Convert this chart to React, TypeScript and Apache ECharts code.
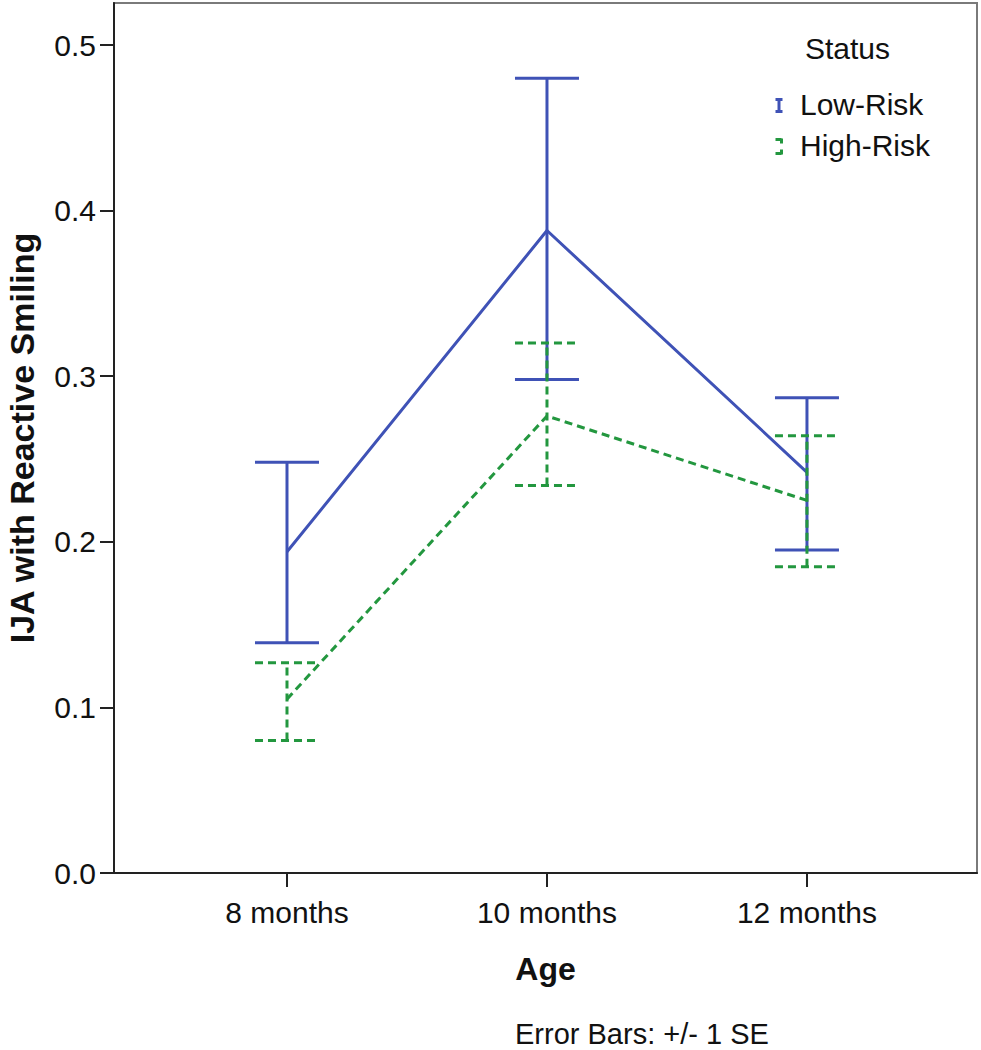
import React, { useEffect, useRef } from "react";
import * as echarts from "echarts";

const ageLabels = ["8 months", "10 months", "12 months"];
const lowRiskMean = [0.194, 0.388, 0.242];
const lowRiskUpper = [0.248, 0.480, 0.287];
const lowRiskLower = [0.139, 0.298, 0.195];
const highRiskMean = [0.105, 0.276, 0.225];
const highRiskUpper = [0.127, 0.320, 0.264];
const highRiskLower = [0.080, 0.234, 0.185];
const yTicks = [0, 0.1, 0.2, 0.3, 0.4, 0.5];

const BLUE = "#3f52b6";
const GREEN = "#23973f";
const FONT = "'Liberation Sans', Arial, sans-serif";

function errorSeries(name: string, upper: number[], lower: number[], color: string, dashed: boolean) {
  const data = upper.map((u, i) => [i, lower[i], u]);
  return {
    type: "custom",
    name,
    data,
    z: dashed ? 4 : 2,
    renderItem: (params: any, api: any) => {
      const x = api.value(0);
      const lo = api.coord([x, api.value(1)]);
      const hi = api.coord([x, api.value(2)]);
      const hw = 32;
      const style = {
        stroke: color,
        lineWidth: 3,
        lineDash: dashed ? [8, 5] : null,
        fill: null,
      };
      return {
        type: "group",
        children: [
          { type: "line", shape: { x1: lo[0], y1: lo[1], x2: hi[0], y2: hi[1] }, style },
          { type: "line", shape: { x1: hi[0] - hw, y1: hi[1], x2: hi[0] + hw, y2: hi[1] }, style },
          { type: "line", shape: { x1: lo[0] - hw, y1: lo[1], x2: lo[0] + hw, y2: lo[1] }, style },
        ],
      };
    },
  };
}

export default function App() {
  const ref = useRef<HTMLDivElement>(null);
  useEffect(() => {
    if (!ref.current) return;
    const chart = echarts.init(ref.current, null, { renderer: "svg" });
    const option: any = {
      animation: false,
      backgroundColor: "#ffffff",
      textStyle: { fontFamily: FONT },
      grid: {
        left: 114,
        right: 4,
        top: 3,
        bottom: 177,
        show: true,
        containLabel: false,
        outerBoundsMode: "none",
        borderColor: "#7a7a7a",
        borderWidth: 2,
        backgroundColor: "transparent",
      },
      xAxis: {
        type: "value",
        min: -0.6654,
        max: 2.654,
        name: "Age",
        nameLocation: "middle",
        nameGap: 80,
        nameTextStyle: { fontSize: 32, fontWeight: "bold", color: "#111", fontFamily: FONT },
        axisLine: { show: true, onZero: false, lineStyle: { color: "#222", width: 2 } },
        axisTick: { show: true, customValues: [0, 1, 2], length: 14, lineStyle: { color: "#222", width: 2 } },
        axisLabel: {
          customValues: [0, 1, 2],
          formatter: (v: number) => ageLabels[Math.round(v)] ?? "",
          fontSize: 30,
          color: "#111",
          margin: 24,
          fontFamily: FONT,
        },
        splitLine: { show: false },
      },
      yAxis: {
        type: "value",
        min: 0,
        max: 0.5254,
        name: "IJA with Reactive Smiling",
        nameLocation: "middle",
        nameGap: 75,
        nameTextStyle: { fontSize: 34, fontWeight: "bold", color: "#111", fontFamily: FONT },
        axisLine: { show: true, onZero: false, lineStyle: { color: "#222", width: 2 } },
        axisTick: { show: true, customValues: yTicks, length: 14, lineStyle: { color: "#222", width: 2 } },
        axisLabel: {
          customValues: yTicks,
          formatter: (v: number) => v.toFixed(1),
          fontSize: 30,
          color: "#111",
          margin: 18,
          fontFamily: FONT,
        },
        splitLine: { show: false },
      },
      series: [
        errorSeries("Low-Risk", lowRiskUpper, lowRiskLower, BLUE, false),
        {
          type: "line",
          name: "Low-Risk",
          data: lowRiskMean.map((v, i) => [i, v]),
          symbol: "none",
          z: 3,
          lineStyle: { color: BLUE, width: 3 },
        },
        errorSeries("High-Risk", highRiskUpper, highRiskLower, GREEN, true),
        {
          type: "line",
          name: "High-Risk",
          data: highRiskMean.map((v, i) => [i, v]),
          symbol: "none",
          z: 5,
          lineStyle: { color: GREEN, width: 3, type: [8, 5] },
        },
      ],
      graphic: [
        {
          type: "text",
          left: 805,
          top: 33,
          style: { text: "Status", fontSize: 30, fill: "#111", fontFamily: FONT },
        },
        {
          type: "group",
          left: 773,
          top: 96,
          children: [
            { type: "line", shape: { x1: 3.5, y1: 0, x2: 3.5, y2: 14 }, style: { stroke: BLUE, lineWidth: 3 } },
            { type: "line", shape: { x1: 0, y1: 1, x2: 7, y2: 1 }, style: { stroke: BLUE, lineWidth: 3 } },
            { type: "line", shape: { x1: 0, y1: 13, x2: 7, y2: 13 }, style: { stroke: BLUE, lineWidth: 3 } },
          ],
        },
        {
          type: "group",
          left: 773,
          top: 136,
          children: [
            { type: "line", shape: { x1: 0, y1: 1, x2: 6, y2: 1 }, style: { stroke: GREEN, lineWidth: 3 } },
            { type: "line", shape: { x1: 6, y1: 0, x2: 6, y2: 5 }, style: { stroke: GREEN, lineWidth: 3 } },
            { type: "line", shape: { x1: 6, y1: 11, x2: 6, y2: 16 }, style: { stroke: GREEN, lineWidth: 3 } },
            { type: "line", shape: { x1: 0, y1: 15, x2: 6, y2: 15 }, style: { stroke: GREEN, lineWidth: 3 } },
          ],
        },
        {
          type: "text",
          left: 800,
          top: 89,
          style: { text: "Low-Risk", fontSize: 30, fill: "#111", fontFamily: FONT },
        },
        {
          type: "text",
          left: 800,
          top: 130,
          style: { text: "High-Risk", fontSize: 30, fill: "#111", fontFamily: FONT },
        },
        {
          type: "text",
          left: 515,
          top: 1019,
          style: { text: "Error Bars: +/- 1 SE", fontSize: 29, fill: "#111", fontFamily: FONT },
        },
      ],
    };
    chart.setOption(option);
    return () => chart.dispose();
  }, []);
  return <div ref={ref} style={{ width: 981, height: 1050, position: "absolute", left: 0, top: 0 }} />;
}
